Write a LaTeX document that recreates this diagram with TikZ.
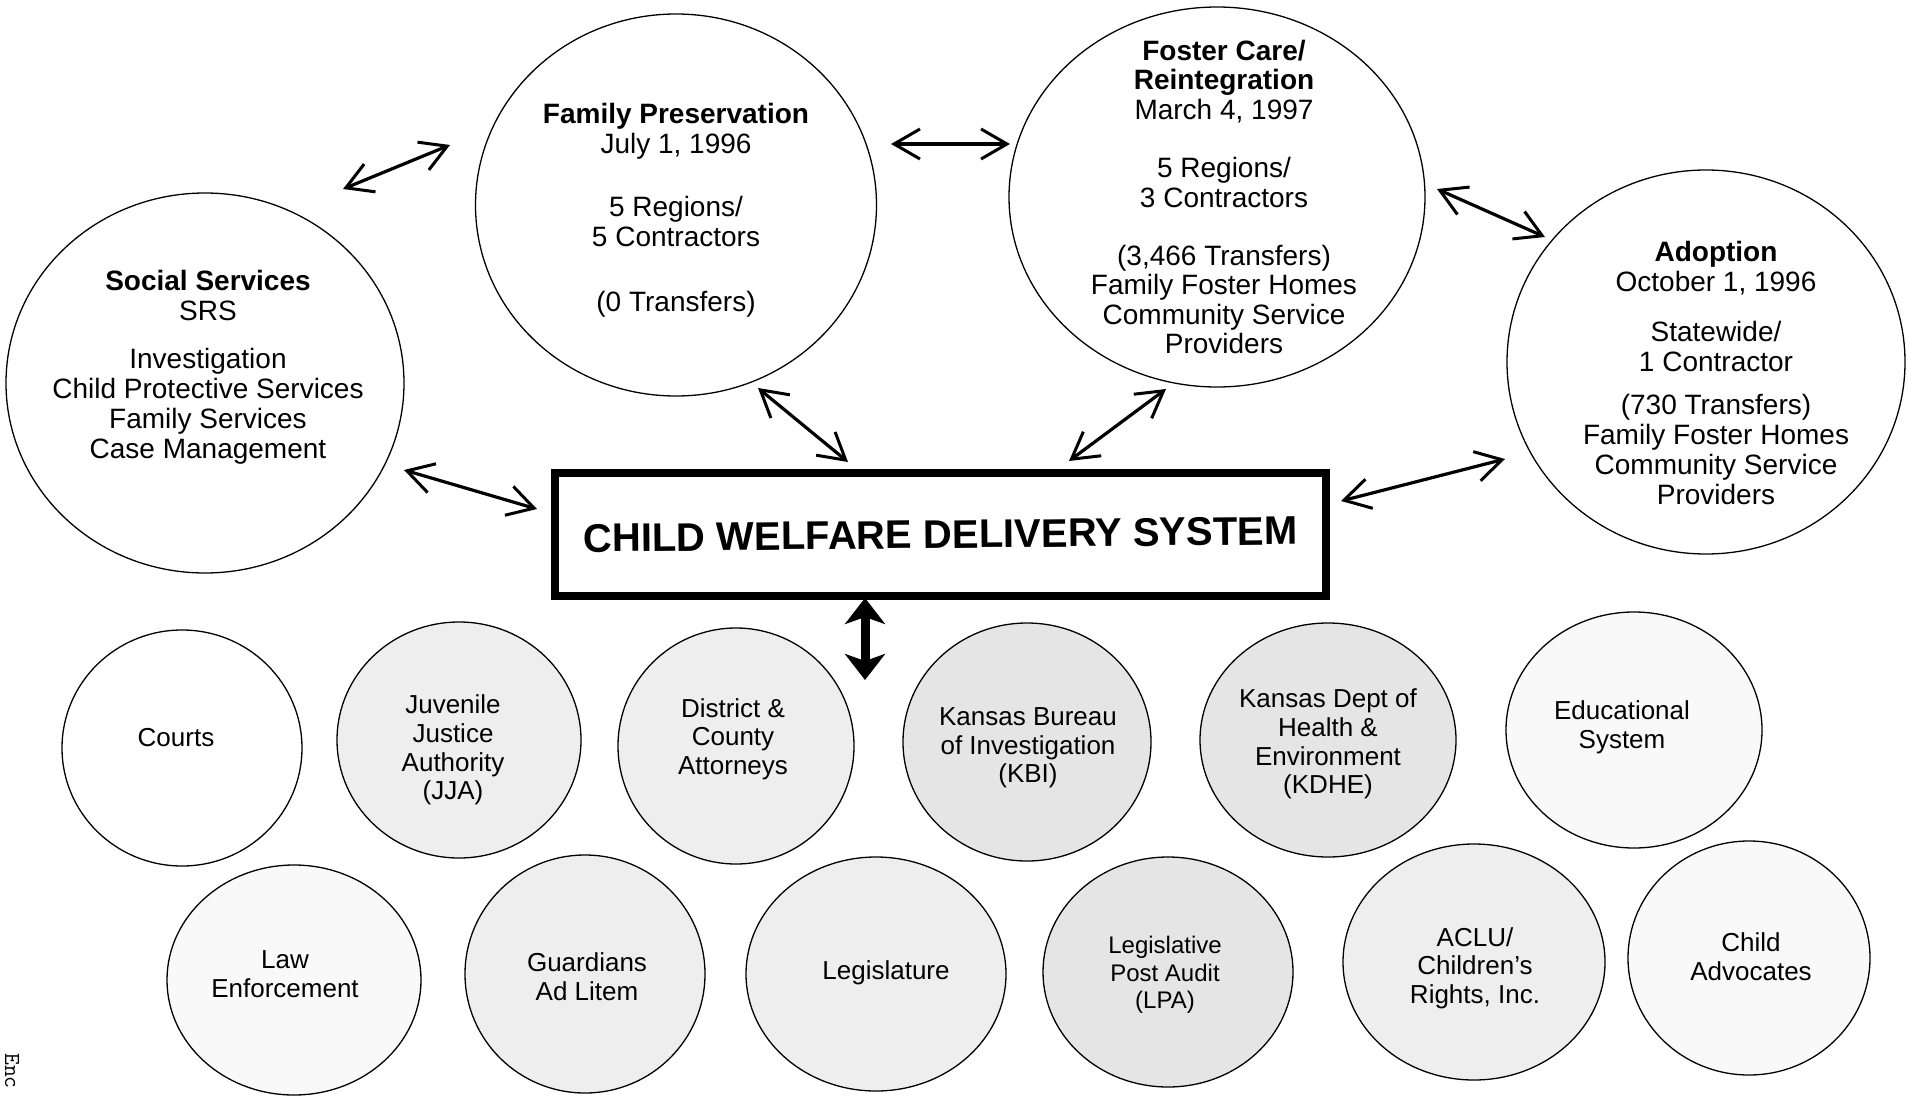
\documentclass[tikz,border=0pt]{standalone}
\usepackage{fontspec}
\setmainfont{Liberation Sans}
\usetikzlibrary{shapes.geometric,arrows.meta}

\definecolor{shadeA}{gray}{0.90}
\definecolor{shadeB}{gray}{0.935}
\definecolor{shadeC}{gray}{0.975}

\tikzset{
  barb/.tip={Straight Barb[length=26pt,width=30pt,line width=3pt]},
  hubtip/.tip={Stealth[length=26pt,width=40pt,inset=7pt]}
}

\begin{document}
\begin{tikzpicture}[x=1pt,y=-1pt,
  bubble/.style={draw, ellipse, line width=1.3pt, inner sep=0pt},
  bigtxt/.style={font=\fontsize{28}{30}\selectfont, align=center, inner sep=0pt},
  smalltxt/.style={font=\fontsize{26}{28.7}\selectfont, align=center, inner sep=0pt},
  tinytxt/.style={font=\fontsize{24}{27.5}\selectfont, align=center, inner sep=0pt},
  link/.style={line width=3.2pt, barb-barb},
  hub/.style={line width=9pt, hubtip-hubtip},
  mainbox/.style={draw, line width=8pt, rectangle, inner sep=0pt,
    minimum width=771pt, minimum height=123pt,
    font=\fontsize{40}{42}\selectfont\bfseries}
]
\path[use as bounding box, fill=white] (0,0) rectangle (1908,1097);

% ---- program ellipses (top row) ----
\node[bubble, minimum width=398pt, minimum height=380pt] (ss) at (205,383) {};
\node[bubble, minimum width=401pt, minimum height=382pt] (fp) at (676,205) {};
\node[bubble, minimum width=416pt, minimum height=380pt] (fc) at (1217,197) {};
\node[bubble, minimum width=398pt, minimum height=384pt] (ad) at (1706,362) {};

\node[bigtxt] (ss-t) at (208,367) {\textbf{Social Services}\\SRS\\[18pt]Investigation\\Child Protective Services\\Family Services\\Case Management};
\node[bigtxt] (fp-t) at (676,210) {\textbf{Family Preservation}\\July 1, 1996\\[33pt]5 Regions/\\5 Contractors\\[35pt](0 Transfers)};
\node[bigtxt, font=\fontsize{28}{29.4}\selectfont] (fc-t) at (1224,197) {\textbf{Foster Care/}\\\textbf{Reintegration}\\March 4, 1997\\[29pt]5 Regions/\\3 Contractors\\[29pt](3,466 Transfers)\\Family Foster Homes\\Community Service\\Providers};
\node[bigtxt] (ad-t) at (1716,373) {\textbf{Adoption}\\October 1, 1996\\[20pt]Statewide/\\1 Contractor\\[13pt](730 Transfers)\\Family Foster Homes\\Community Service\\Providers};

% ---- central box ----
\node[mainbox] (cwds) at (940.5,534.5) {\raisebox{-5pt}{\rotatebox{0.6}{CHILD WELFARE DELIVERY SYSTEM}}};

% ---- partner agencies ----
\node[bubble, fill=white,  minimum width=240pt, minimum height=236pt] (courts) at (182,748) {};
\node[bubble, fill=shadeB, minimum width=244pt, minimum height=236pt] (jja)    at (459,740) {};
\node[bubble, fill=shadeB, minimum width=236pt, minimum height=236pt] (dca)    at (736,746) {};
\node[bubble, fill=shadeA, minimum width=248pt, minimum height=238pt] (kbi)    at (1027,742) {};
\node[bubble, fill=shadeA, minimum width=256pt, minimum height=234pt] (kdhe)   at (1328,740) {};
\node[bubble, fill=shadeC, minimum width=256pt, minimum height=236pt] (edu)    at (1634,730) {};
\node[bubble, fill=shadeC, minimum width=254pt, minimum height=230pt] (law)    at (294,980) {};
\node[bubble, fill=shadeB, minimum width=240pt, minimum height=238pt] (gal)    at (585,974) {};
\node[bubble, fill=shadeB, minimum width=260pt, minimum height=234pt] (leg)    at (876,974) {};
\node[bubble, fill=shadeA, minimum width=250pt, minimum height=230pt] (lpa)    at (1168,972) {};
\node[bubble, fill=shadeB, minimum width=262pt, minimum height=236pt] (aclu)   at (1474,962) {};
\node[bubble, fill=shadeC, minimum width=242pt, minimum height=234pt] (child)  at (1749,958) {};

\node[smalltxt] (courts-t) at (176,738)  {Courts};
\node[smalltxt] (jja-t)    at (453,750)  {Juvenile\\Justice\\Authority\\(JJA)};
\node[smalltxt] (dca-t)    at (733,739)  {District \&\\County\\Attorneys};
\node[smalltxt] (kbi-t)    at (1028,748) {Kansas Bureau\\of Investigation\\(KBI)};
\node[smalltxt] (kdhe-t)   at (1328,744) {Kansas Dept of\\Health \&\\Environment\\(KDHE)};
\node[smalltxt] (edu-t)    at (1622,727) {Educational\\System};
\node[smalltxt] (law-t)    at (285,974)  {Law\\Enforcement};
\node[smalltxt] (gal-t)    at (587,977)  {Guardians\\Ad Litem};
\node[smalltxt] (leg-t)    at (886,973)  {Legislature};
\node[tinytxt]  (lpa-t)    at (1165,975) {Legislative\\Post Audit\\(LPA)};
\node[smalltxt] (aclu-t)   at (1475,968) {ACLU/\\Children's\\Rights, Inc.};
\node[smalltxt] (child-t)  at (1751,957) {Child\\Advocates};

% ---- arrow end points ----
\coordinate (ss-fp-a)  at (343,189);  \coordinate (ss-fp-b)  at (450,145);
\coordinate (ss-c-a)   at (404,470);  \coordinate (ss-c-b)   at (537,509);
\coordinate (fp-c-a)   at (758,388);  \coordinate (fp-c-b)   at (848,462);
\coordinate (fp-fc-a)  at (891,144);  \coordinate (fp-fc-b)  at (1010,144);
\coordinate (fc-c-a)   at (1166,389); \coordinate (fc-c-b)   at (1069,461);
\coordinate (fc-ad-a)  at (1437,189); \coordinate (fc-ad-b)  at (1545,237);
\coordinate (ad-c-a)   at (1505,459); \coordinate (ad-c-b)   at (1341,501);
\coordinate (hub-a)    at (865,598);  \coordinate (hub-b)    at (865,680);

\draw[link] (ss-fp-a) -- (ss-fp-b);
\draw[link] (ss-c-a) -- (ss-c-b);
\draw[link] (fp-c-a) -- (fp-c-b);
\draw[link] (fp-fc-a) -- (fp-fc-b);
\draw[link] (fc-c-a) -- (fc-c-b);
\draw[link] (fc-ad-a) -- (fc-ad-b);
\draw[link] (ad-c-a) -- (ad-c-b);
\draw[hub] (hub-a) -- (hub-b);

% ---- margin note ----
\node[font=\ttfamily\fontsize{23}{23}\selectfont, rotate=-90, inner sep=0pt] (enc) at (12,1071) {Enc};
\end{tikzpicture}
\end{document}
